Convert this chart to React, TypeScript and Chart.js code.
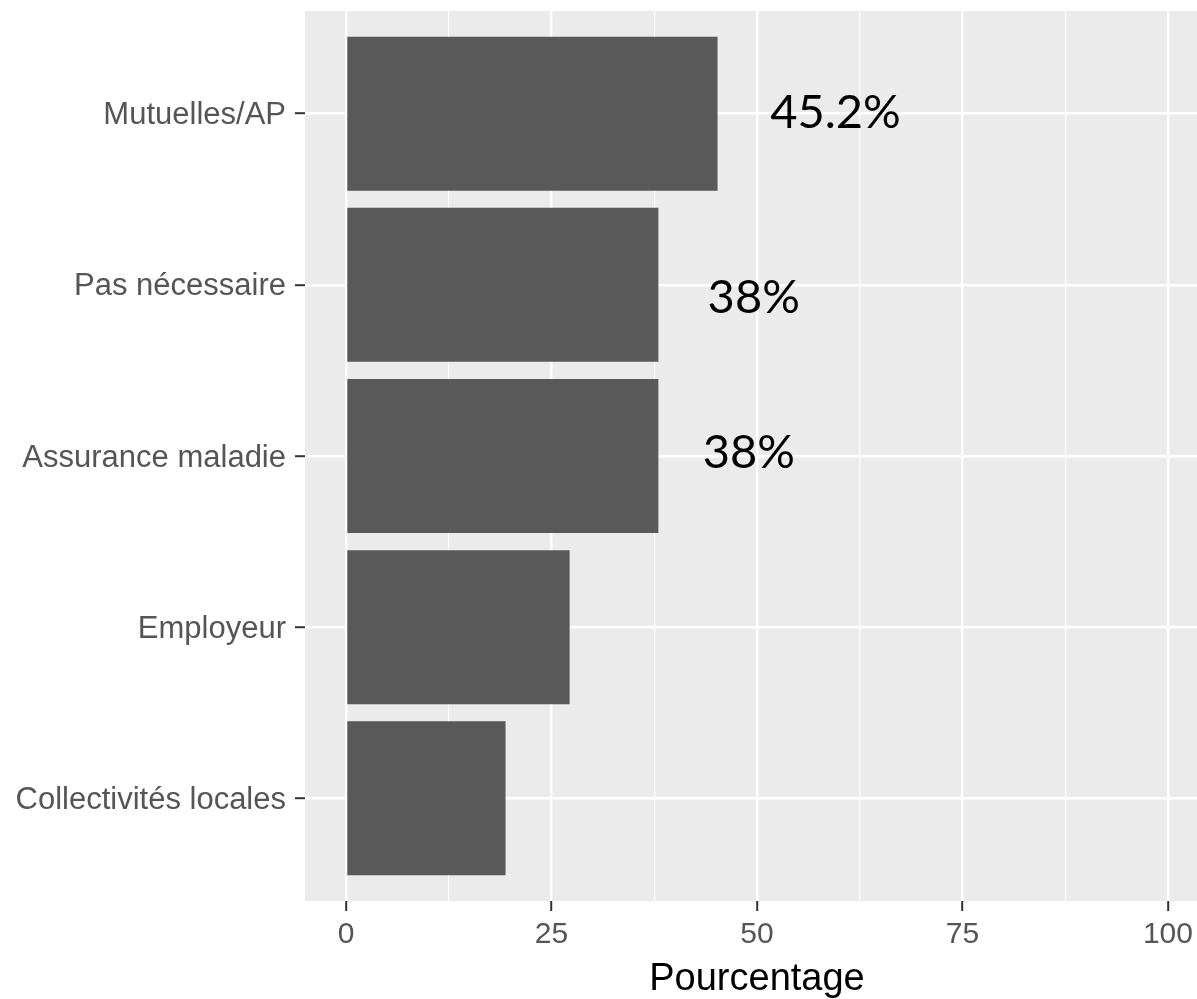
import React, { useEffect, useRef } from "react";
import { Chart, registerables } from "chart.js";

Chart.register(...registerables);

const categories = [
  "Mutuelles/AP",
  "Pas nécessaire",
  "Assurance maladie",
  "Employeur",
  "Collectivités locales",
];
const values = [45.2, 38, 38, 27.2, 19.4];

const xTicks = [0, 12.5, 25, 37.5, 50, 62.5, 75, 87.5, 100];
const xMajor = [0, 25, 50, 75, 100];

const noteTexts = ["45.2%", "38%", "38%"];
const noteX = [59.55, 49.6, 49.0];
const noteY = [0.085, 1.164, 2.07];

const panelBg = {
  id: "panelBg",
  beforeDraw(chart: any) {
    const { ctx, chartArea } = chart;
    ctx.save();
    ctx.fillStyle = "#EBEBEB";
    ctx.fillRect(chartArea.left, chartArea.top, chartArea.right - chartArea.left, chartArea.bottom - chartArea.top);
    ctx.restore();
  },
};

const notes = {
  id: "notes",
  afterDatasetsDraw(chart: any) {
    const { ctx } = chart;
    const xs = chart.scales.x;
    const ys = chart.scales.y;
    ctx.save();
    ctx.fillStyle = "#000000";
    ctx.font = "47px Lato";
    ctx.textAlign = "center";
    ctx.textBaseline = "alphabetic";
    noteTexts.forEach((t, i) => {
      ctx.fillText(t, xs.getPixelForValue(noteX[i]), ys.getPixelForValue(noteY[i]));
    });
    ctx.restore();
  },
};

export default function App() {
  const ref = useRef<HTMLCanvasElement | null>(null);
  useEffect(() => {
    if (!ref.current) return;
    const chart = new Chart(ref.current, {
      type: "bar",
      data: {
        datasets: [
          {
            data: values.map((v, i) => ({ x: v, y: i })) as any,
            backgroundColor: "#595959",
            borderWidth: 0,
            barPercentage: 0.9,
            categoryPercentage: 1,
          },
        ],
      },
      options: {
        indexAxis: "y",
        animation: false,
        responsive: true,
        maintainAspectRatio: false,
        devicePixelRatio: 1,
        layout: { padding: { top: 11, left: 0, right: 0, bottom: 0 } },
        plugins: { legend: { display: false }, tooltip: { enabled: false } },
        scales: {
          x: {
            type: "linear",
            min: -5,
            max: 105,
            offset: false,
            afterBuildTicks: (axis: any) => {
              axis.ticks = xTicks.map((v) => ({ value: v }));
            },
            afterFit: (scale: any) => {
              scale.height = 98;
              scale.paddingLeft = 0;
              scale.paddingRight = 0;
            },
            border: { display: false },
            grid: {
              offset: false,
              color: "#FFFFFF",
              lineWidth: (c: any) => (xMajor.includes(c.tick?.value) ? 2.4 : 1.2),
              tickColor: (c: any) => (xMajor.includes(c.tick?.value) ? "#333333" : "rgba(0,0,0,0)"),
              tickLength: 10,
              tickWidth: 2,
            },
            ticks: {
              autoSkip: false,
              maxRotation: 0,
              padding: 9,
              color: "#555555",
              font: { family: "Liberation Sans", size: 30, lineHeight: 1 },
              callback: (v: any) => (xMajor.includes(v) ? String(v) : ""),
            },
            title: {
              display: true,
              text: "Pourcentage",
              color: "#000000",
              font: { family: "Liberation Sans", size: 38, lineHeight: 1 },
              padding: { top: 0, bottom: 0 },
            },
          },
          y: {
            type: "linear",
            min: -0.6,
            max: 4.6,
            reverse: true,
            offset: false,
            afterBuildTicks: (axis: any) => {
              axis.ticks = categories.map((_, i) => ({ value: i }));
            },
            afterFit: (scale: any) => {
              scale.width = 305;
              scale.paddingTop = 0;
              scale.paddingBottom = 0;
            },
            border: { display: false },
            grid: {
              offset: false,
              color: "#FFFFFF",
              lineWidth: 2.4,
              tickColor: "#333333",
              tickLength: 10,
              tickWidth: 2,
            },
            ticks: {
              autoSkip: false,
              padding: 9,
              labelOffset: 2,
              color: "#555555",
              font: { family: "Liberation Sans", size: 31, lineHeight: 1 },
              callback: (v: any) => categories[v] ?? "",
            },
          },
        },
      },
      plugins: [panelBg, notes],
    });
    return () => chart.destroy();
  }, []);

  return (
    <div style={{ position: "absolute", left: 0, top: 0, width: 1197, height: 999, overflow: "hidden", background: "#FFFFFF" }}>
      <div style={{ position: "absolute", left: 0, top: 0, width: 1209, height: 999 }}>
        <canvas ref={ref} />
      </div>
    </div>
  );
}
